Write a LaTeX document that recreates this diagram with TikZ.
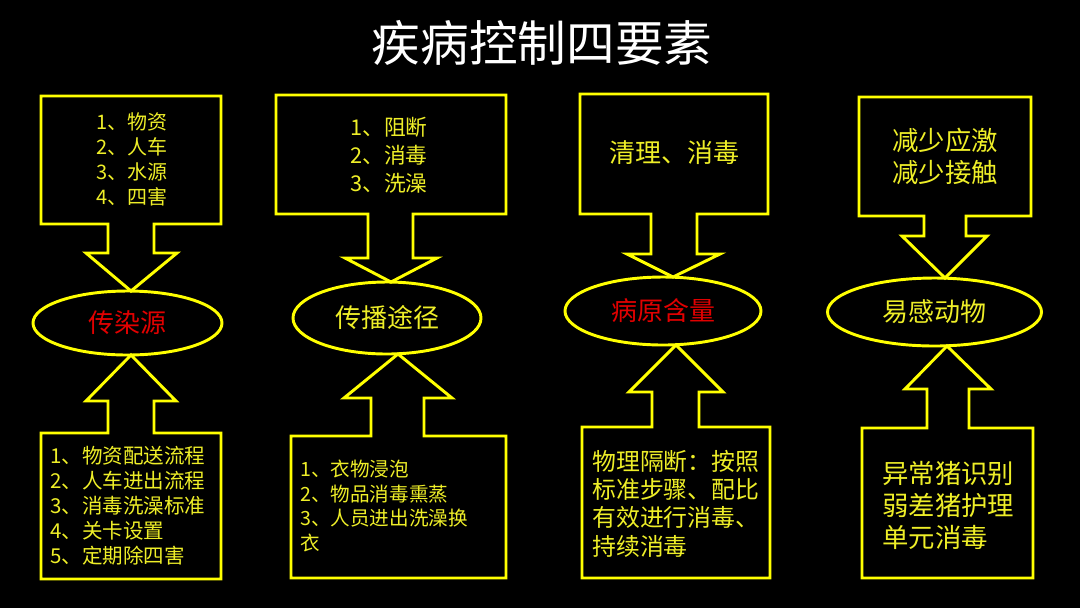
\documentclass[tikz,border=0pt]{standalone}
\usepackage{fontspec}
\setmainfont{Noto Sans CJK SC}
\usetikzlibrary{shapes.geometric}
\definecolor{boxyellow}{RGB}{255,255,0}
\definecolor{txtyellow}{RGB}{238,238,40}
\definecolor{txtred}{RGB}{225,0,0}
\tikzset{
  callout/.style={draw=boxyellow, line width=2.2pt, line join=miter},
  oval/.style={ellipse, draw=boxyellow, line width=2.2pt, inner sep=0pt},
  txt/.style={text=txtyellow, inner sep=0pt, align=left},
}
\newcommand{\fs}[2]{\fontsize{#1}{#2}\selectfont}
\begin{document}
\begin{tikzpicture}[x=0.75pt, y=-0.75pt]
\fill[black] (0,0) rectangle (1080,608);
\useasboundingbox (0,0) rectangle (1080,608);

% title
\node[text=white, inner sep=0pt, font=\fs{36.5}{40}] (title) at (542,43) {疾病控制四要素};

% ---------- column 1 ----------
\node[oval, minimum width=189*0.75pt, minimum height=64*0.75pt, text=txtred, font=\fs{19.5}{22}] (e1) at (127.5,323) {传染源};
\coordinate (t1) at (131,291);
\coordinate (b1) at (131,355);
\draw[callout] (41,96) -- (221,96) -- (221,224) -- (154,224) -- (154,253) -- (177,253) -- (t1)
  -- (86,253) -- (108,253) -- (108,224) -- (41,224) -- cycle;
\draw[callout] (b1) -- (176,401) -- (154,401) -- (154,433) -- (221,433) -- (221,579) -- (41,579)
  -- (41,433) -- (108,433) -- (108,401) -- (86,401) -- cycle;
\node[txt, anchor=west, font=\fs{15}{18.75}] (top1) at (96,159.5) {1、物资\\2、人车\\3、水源\\4、四害};
\node[txt, anchor=west, font=\fs{15.4}{18.75}] (bot1) at (50,506) {1、物资配送流程\\2、人车进出流程\\3、消毒洗澡标准\\4、关卡设置\\5、定期除四害};

% ---------- column 2 ----------
\node[oval, minimum width=188*0.75pt, minimum height=72*0.75pt, text=txtyellow, font=\fs{19.5}{22}] (e2) at (387,318) {传播途径};
\coordinate (t2) at (391,282);
\coordinate (b2) at (398,354);
\draw[callout] (276,95) -- (506,95) -- (506,214) -- (413,214) -- (413,258) -- (437,258) -- (t2)
  -- (345,258) -- (368,258) -- (368,214) -- (276,214) -- cycle;
\draw[callout] (b2) -- (452,398) -- (424,398) -- (424,436) -- (506,436) -- (506,578) -- (291,578)
  -- (291,436) -- (371,436) -- (371,398) -- (344,398) -- cycle;
\node[txt, anchor=west, font=\fs{16.3}{21}] (top2) at (350,155) {1、阻断\\2、消毒\\3、洗澡};
\node[txt, anchor=west, font=\fs{14.7}{18.5}] (bot2) at (300,506) {1、衣物浸泡\\2、物品消毒熏蒸\\3、人员进出洗澡换\\衣};

% ---------- column 3 ----------
\node[oval, minimum width=196*0.75pt, minimum height=68*0.75pt, text=txtred, font=\fs{19.5}{22}] (e3) at (663,311) {病原含量};
\coordinate (t3) at (673,277);
\coordinate (b3) at (676,345);
\draw[callout] (580,94) -- (768,94) -- (768,214) -- (697,214) -- (697,254) -- (720,254) -- (t3)
  -- (627,254) -- (651,254) -- (651,214) -- (580,214) -- cycle;
\draw[callout] (b3) -- (723,392) -- (699,392) -- (699,427) -- (770,427) -- (770,578) -- (582,578)
  -- (582,427) -- (652,427) -- (652,392) -- (629,392) -- cycle;
\node[txt, font=\fs{19.5}{22}] (top3) at (674,153) {清理、消毒};
\node[txt, anchor=west, font=\fs{17.9}{21.2}] (bot3) at (592,503.5) {物理隔断：按照\\标准步骤、配比\\有效进行消毒、\\持续消毒};

% ---------- column 4 ----------
\node[oval, minimum width=214*0.75pt, minimum height=68*0.75pt, text=txtyellow, font=\fs{19.5}{22}] (e4) at (934.5,312) {易感动物};
\coordinate (t4) at (945,278);
\coordinate (b4) at (947,346);
\draw[callout] (859,97) -- (1031,97) -- (1031,216) -- (966,216) -- (966,236) -- (987,236) -- (t4)
  -- (902,236) -- (924,236) -- (924,216) -- (859,216) -- cycle;
\draw[callout] (b4) -- (991,389) -- (969,389) -- (969,428) -- (1033,428) -- (1033,578) -- (862,578)
  -- (862,428) -- (927,428) -- (927,389) -- (905,389) -- cycle;
\node[txt, anchor=west, font=\fs{19.8}{24}] (top4) at (892,156) {减少应激\\减少接触};
\node[txt, anchor=west, font=\fs{19.8}{24}] (bot4) at (882,505) {异常猪识别\\弱差猪护理\\单元消毒};
\end{tikzpicture}
\end{document}
